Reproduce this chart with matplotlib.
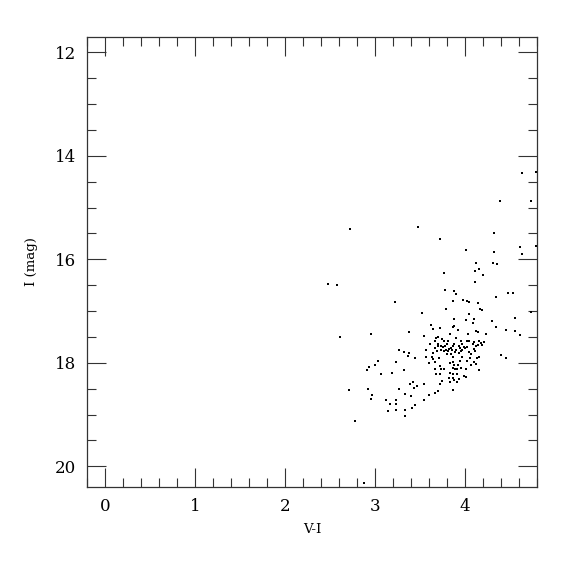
import numpy as np
import matplotlib
matplotlib.use("Agg")
import matplotlib.pyplot as plt
from matplotlib.ticker import MultipleLocator

# colour-magnitude diagram: V-I colour vs I magnitude
v_minus_i = np.array([
    2.72, 3.48, 4.63, 4.79, 4.73, 4.39, 4.32, 3.72, 4.01, 4.32,
    4.61, 4.63, 4.79, 4.12, 4.31, 4.36, 4.16, 4.11, 4.20, 3.76,
    4.11, 2.48, 2.57, 3.22, 3.52, 3.78, 3.88, 3.90, 3.86, 3.98,
    4.02, 4.04, 4.14, 4.34, 4.48, 4.53, 3.79, 4.17, 4.19, 4.04,
    4.73, 4.56, 4.30, 3.88, 4.01, 4.10, 4.09, 3.62, 3.88, 3.87,
    3.64, 3.72, 3.92, 4.12, 4.14, 4.34, 4.46, 4.55, 4.61, 4.23,
    4.03, 3.83, 2.95, 3.38, 3.54, 2.61,
    3.26, 3.32, 3.38, 3.37, 3.44, 3.03, 3.23, 3.00, 2.93, 2.91,
    3.32, 3.19, 3.06, 3.42, 3.39, 3.46, 3.43, 3.54, 3.27, 2.71,
    2.92, 2.97, 3.33, 3.40, 2.95, 3.12, 3.23, 3.16, 3.23, 3.44,
    3.54, 3.14, 3.23, 3.33, 3.41, 3.33, 2.78, 2.88,
    3.60, 3.66, 3.70, 3.86,
    3.70, 3.68, 3.74, 3.67, 3.77, 3.81, 3.90, 3.95, 4.02, 4.04,
    4.10, 4.15, 4.21, 4.18, 3.61, 3.70, 3.80, 3.88, 3.96, 3.99,
    4.02, 4.09, 4.12, 4.14, 4.19, 3.70, 3.73, 3.78, 3.93, 3.66,
    3.75, 3.84, 3.87, 3.94, 4.00, 3.57, 3.69, 3.73, 3.76, 3.79,
    3.81, 3.82, 3.85, 3.89, 3.90, 3.95, 3.97, 4.10, 4.11, 4.04,
    3.64, 3.80, 3.84, 3.93, 4.07, 3.57, 3.63, 3.64, 3.71, 3.87,
    3.96, 4.05, 4.13, 4.15, 3.60, 3.66, 3.83, 3.87, 3.94, 4.02,
    4.10, 4.12, 4.07, 3.72, 3.88, 3.92, 3.66, 3.73, 3.77, 3.87,
    3.89, 3.91, 3.95, 4.01, 4.16, 3.68, 3.72, 3.83, 3.87, 3.91,
    3.99, 4.01, 3.82, 3.87, 3.93, 3.88, 3.74, 3.83, 3.91, 3.72,
    4.40, 4.46,
])
i_mag = np.array([
    15.42, 15.37, 14.33, 14.32, 14.87, 14.87, 15.49, 15.60, 15.82, 15.86,
    15.77, 15.89, 15.75, 16.08, 16.07, 16.09, 16.19, 16.22, 16.31, 16.26,
    16.44, 16.47, 16.50, 16.82, 17.03, 16.60, 16.61, 16.67, 16.80, 16.79,
    16.80, 16.82, 16.85, 16.72, 16.66, 16.65, 16.96, 16.96, 16.98, 17.05,
    17.01, 17.13, 17.19, 17.15, 17.17, 17.16, 17.24, 17.26, 17.29, 17.31,
    17.35, 17.32, 17.37, 17.38, 17.41, 17.31, 17.36, 17.38, 17.46, 17.45,
    17.45, 17.44, 17.44, 17.40, 17.48, 17.50,
    17.75, 17.79, 17.81, 17.87, 17.91, 17.96, 17.98, 18.05, 18.08, 18.14,
    18.13, 18.20, 18.22, 18.37, 18.41, 18.44, 18.48, 18.41, 18.50, 18.52,
    18.51, 18.62, 18.61, 18.64, 18.69, 18.72, 18.72, 18.80, 18.80, 18.81,
    18.72, 18.94, 18.92, 18.92, 18.87, 19.03, 19.12, 20.32,
    18.62, 18.58, 18.54, 18.52,
    17.50, 17.52, 17.54, 17.58, 17.57, 17.57, 17.52, 17.58, 17.57, 17.57,
    17.59, 17.58, 17.60, 17.62, 17.63, 17.63, 17.63, 17.63, 17.63, 17.69,
    17.70, 17.63, 17.67, 17.65, 17.65, 17.68, 17.68, 17.67, 17.67, 17.71,
    17.70, 17.71, 17.68, 17.71, 17.72, 17.76, 17.77, 17.76, 17.78, 17.75,
    17.78, 17.74, 17.76, 17.80, 17.76, 17.77, 17.75, 17.74, 17.78, 17.80,
    17.81, 17.83, 17.82, 17.81, 17.83, 17.89, 17.89, 17.92, 17.91, 17.89,
    17.89, 17.90, 17.91, 17.89, 18.00, 17.98, 18.00, 17.98, 17.96, 17.96,
    17.98, 18.03, 18.04, 18.06, 18.05, 18.05, 18.12, 18.11, 18.11, 18.10,
    18.12, 18.12, 18.10, 18.12, 18.13, 18.21, 18.22, 18.20, 18.21, 18.22,
    18.25, 18.28, 18.29, 18.30, 18.31, 18.34, 18.35, 18.37, 18.38, 18.40,
    17.84, 17.91,
])

plt.rcParams['font.family'] = ['DejaVu Serif']

fig = plt.figure(figsize=(5.75, 5.75), dpi=100)
ax = fig.add_axes([0.152, 0.153, 0.782, 0.783])

ax.plot(v_minus_i, i_mag, linestyle='none', marker='s', markersize=1.6,
        color='black', markeredgewidth=0)

ax.set_xlim(-0.2, 4.8)
ax.set_ylim(20.4, 11.7)

ax.xaxis.set_major_locator(MultipleLocator(1))
ax.xaxis.set_minor_locator(MultipleLocator(0.2))
ax.yaxis.set_major_locator(MultipleLocator(2))
ax.yaxis.set_minor_locator(MultipleLocator(0.5))

ax.tick_params(which='both', direction='in', top=True, right=True,
               width=0.8, colors='#333333', labelcolor='black')
ax.tick_params(which='major', length=13.5, labelsize=12, pad=8)
ax.tick_params(which='minor', length=6.8)
for s in ax.spines.values():
    s.set_linewidth(0.9)
    s.set_color('#333333')

ax.set_xlabel('V-I', fontsize=9.5, labelpad=6)
ax.set_ylabel('I (mag)', fontsize=9.5, labelpad=12)

fig.savefig('out.png', dpi=100)
